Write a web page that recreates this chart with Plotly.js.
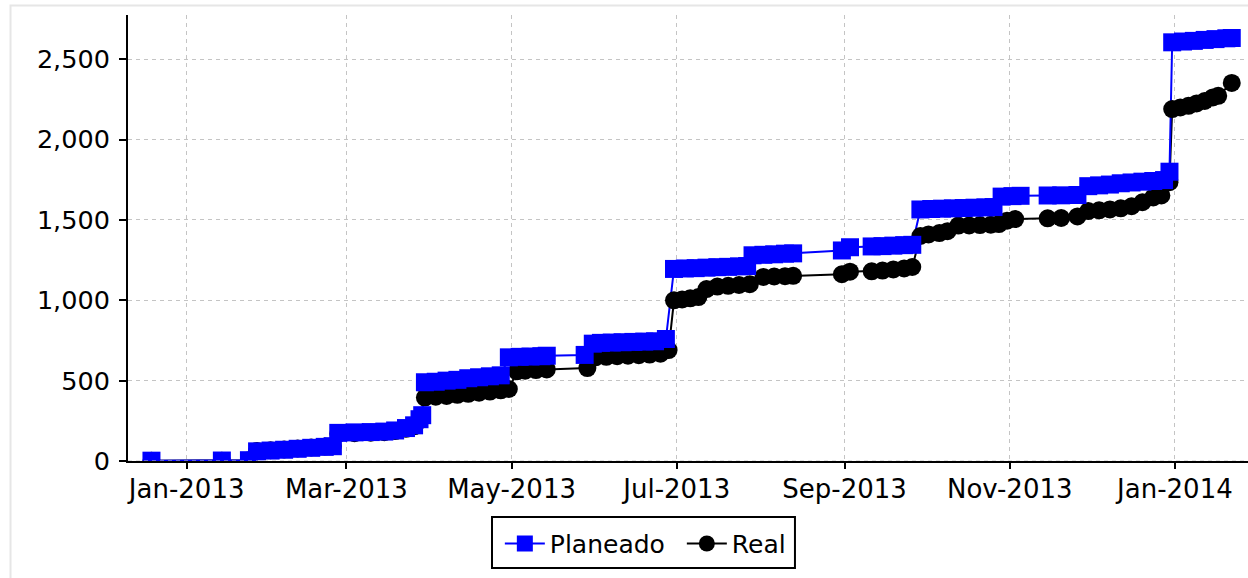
<!DOCTYPE html>
<html><head><meta charset="utf-8">
<script src="https://cdn.plot.ly/plotly-3.0.1.min.js"></script>
<style>html,body{margin:0;padding:0;background:#fff;} #chart{width:1248px;height:578px;}</style>
</head><body><div id="chart"></div>
<script>
const planDates = ['2012-12-19','2013-01-14','2013-01-24','2013-01-27','2013-02-01','2013-02-06','2013-02-11','2013-02-16','2013-02-21','2013-02-24','2013-02-26','2013-03-04','2013-03-10','2013-03-15','2013-03-19','2013-03-23','2013-03-26','2013-03-28','2013-03-29','2013-03-30','2013-04-03','2013-04-07','2013-04-11','2013-04-15','2013-04-19','2013-04-23','2013-04-27','2013-04-30','2013-05-04','2013-05-08','2013-05-12','2013-05-14','2013-05-28','2013-05-31','2013-06-03','2013-06-07','2013-06-11','2013-06-15','2013-06-19','2013-06-23','2013-06-27','2013-06-30','2013-07-04','2013-07-08','2013-07-12','2013-07-16','2013-07-20','2013-07-24','2013-07-27','2013-07-29','2013-08-02','2013-08-06','2013-08-10','2013-08-13','2013-08-31','2013-09-03','2013-09-11','2013-09-15','2013-09-19','2013-09-23','2013-09-26','2013-09-29','2013-10-03','2013-10-07','2013-10-11','2013-10-15','2013-10-19','2013-10-23','2013-10-26','2013-10-29','2013-11-02','2013-11-05','2013-11-15','2013-11-20','2013-11-26','2013-11-30','2013-12-04','2013-12-08','2013-12-12','2013-12-16','2013-12-20','2013-12-24','2013-12-28','2013-12-30','2013-12-31','2014-01-04','2014-01-08','2014-01-12','2014-01-16','2014-01-20','2014-01-22'];
const planValues = [2,3,5,60,65,70,76,82,88,92,175,178,180,183,190,205,222,260,285,490,493,500,505,515,521,527,533,645,648,650,652,655,660,730,735,737,739,741,743,745,759,1195,1198,1200,1203,1206,1208,1211,1213,1280,1283,1286,1290,1292,1310,1330,1335,1337,1340,1343,1345,1565,1568,1570,1572,1574,1576,1578,1580,1645,1648,1650,1652,1653,1655,1710,1715,1720,1728,1733,1738,1742,1748,1800,2605,2610,2614,2620,2625,2630,2632];

const realDates = ['2012-12-19','2013-01-14','2013-01-24','2013-01-27','2013-02-01','2013-02-06','2013-02-11','2013-02-16','2013-02-21','2013-02-24','2013-02-26','2013-03-04','2013-03-10','2013-03-15','2013-03-19','2013-03-23','2013-03-26','2013-03-28','2013-03-30','2013-04-03','2013-04-07','2013-04-11','2013-04-15','2013-04-19','2013-04-23','2013-04-27','2013-04-30','2013-05-03','2013-05-06','2013-05-10','2013-05-14','2013-05-29','2013-06-01','2013-06-05','2013-06-09','2013-06-13','2013-06-17','2013-06-21','2013-06-25','2013-06-28','2013-06-30','2013-07-03','2013-07-06','2013-07-09','2013-07-12','2013-07-16','2013-07-20','2013-07-24','2013-07-28','2013-08-02','2013-08-06','2013-08-10','2013-08-13','2013-08-31','2013-09-03','2013-09-11','2013-09-15','2013-09-19','2013-09-23','2013-09-26','2013-09-29','2013-10-02','2013-10-06','2013-10-09','2013-10-13','2013-10-17','2013-10-21','2013-10-25','2013-10-28','2013-10-31','2013-11-03','2013-11-15','2013-11-20','2013-11-26','2013-11-30','2013-12-04','2013-12-08','2013-12-12','2013-12-16','2013-12-20','2013-12-24','2013-12-27','2013-12-30','2013-12-31','2014-01-03','2014-01-06','2014-01-09','2014-01-12','2014-01-15','2014-01-17','2014-01-22'];
const realValues = [1,2,4,62,67,72,78,84,90,94,170,173,176,179,186,200,216,252,395,400,405,412,418,425,432,440,448,558,562,566,570,578,645,648,652,655,658,662,668,690,1000,1005,1012,1020,1070,1085,1090,1095,1100,1145,1148,1150,1152,1162,1178,1180,1185,1192,1198,1207,1400,1410,1418,1430,1465,1466,1468,1470,1474,1495,1505,1510,1512,1522,1555,1560,1565,1572,1585,1610,1640,1652,1735,2190,2200,2210,2225,2240,2262,2272,2352];

const seriesNames = ['Planeado','Real'];
const BLUE = '#0000ff', BLACK = '#000000';
const FS = 25.5;

const traces = [
  {x: realDates, y: realValues, mode:'lines', line:{color:BLACK, width:2}, showlegend:false, hoverinfo:'skip'},
  {x: planDates, y: planValues, mode:'lines', line:{color:BLUE, width:2}, showlegend:false, hoverinfo:'skip'},
  {x: realDates, y: realValues, mode:'markers', marker:{symbol:'circle', size:18, color:BLACK}, showlegend:false, name:seriesNames[1]},
  {x: planDates, y: planValues, mode:'markers', marker:{symbol:'square', size:18, color:BLUE}, showlegend:false, name:seriesNames[0]},
  {x:[null], y:[null], mode:'lines+markers', name:seriesNames[0], line:{color:BLUE, width:2}, marker:{symbol:'square', size:16, color:BLUE}},
  {x:[null], y:[null], mode:'lines+markers', name:seriesNames[1], line:{color:BLACK, width:2}, marker:{symbol:'circle', size:16, color:BLACK}}
];

const layout = {
  width:1248, height:578,
  margin:{l:128, r:0, t:15, b:117},
  paper_bgcolor:'#ffffff', plot_bgcolor:'#ffffff',
  font:{family:'DejaVu Sans', size:FS, color:'#000'},
  showlegend:true,
  legend:{orientation:'h', x:0.332, xanchor:'left', y:-0.134, yanchor:'top', itemwidth:40, entrywidth:127, entrywidthmode:'pixels', bgcolor:'rgba(0,0,0,0)', borderwidth:0, font:{family:'DejaVu Sans', size:25, color:'#000'}, traceorder:'normal'},
  xaxis:{type:'date', range:['2012-12-10 08:00','2014-01-28 00:00'], tick0:'2013-01-01', dtick:'M2', tickformat:'%b-%Y',
    showgrid:true, gridcolor:'#c4c4c4', gridwidth:1, griddash:'4px,4px', showline:true, linecolor:'#000', linewidth:2,
    ticks:'outside', ticklen:6, tickwidth:2, tickcolor:'#000', zeroline:false, ticklabelstandoff:-2,
    tickfont:{family:'DejaVu Sans', size:26, color:'#000'}},
  yaxis:{range:[0,2775], tick0:0, dtick:500, tickformat:',d',
    showgrid:true, gridcolor:'#c4c4c4', gridwidth:1, griddash:'4px,4px', showline:true, linecolor:'#000', linewidth:2,
    ticks:'outside', ticklen:7, tickwidth:2, tickcolor:'#000', zeroline:false, ticklabelstandoff:4,
    tickfont:{family:'DejaVu Sans', size:FS, color:'#000'}},
  shapes:[
    {type:'rect', xref:'paper', yref:'paper', x0:-0.1049, x1:1.3, y0:-0.5, y1:1.0213, line:{color:'#e6e6e6', width:2}, fillcolor:'rgba(0,0,0,0)', layer:'below'},
    {type:'rect', xref:'paper', yref:'paper', x0:0.325, x1:0.5955, y0:-0.2399, y1:-0.1256, line:{color:'#000', width:2}, fillcolor:'rgba(0,0,0,0)'},
    {type:'line', xref:'paper', yref:'y', x0:0, x1:1, y0:0, y1:0, line:{color:'#c4c4c4', width:1, dash:'4px,4px'}, layer:'above'}
  ]
};

Plotly.newPlot('chart', traces, layout, {staticPlot:true, displayModeBar:false});
</script></body></html>
